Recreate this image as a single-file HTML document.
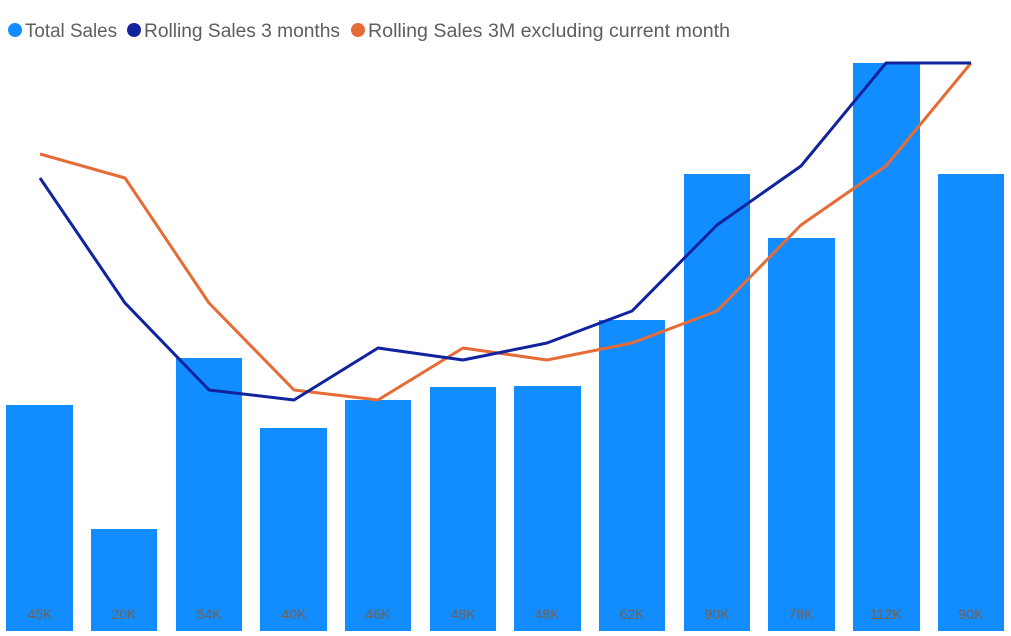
<!DOCTYPE html>
<html><head><style>
html,body{margin:0;padding:0;background:#fff;}
svg{display:block;}
</style></head><body>
<svg width="1011" height="636" viewBox="0 0 1011 636" xmlns="http://www.w3.org/2000/svg" font-family="'Liberation Sans', sans-serif">
<g font-size="19" fill="#605e5c">
<circle cx="15" cy="30" r="7" fill="#118DFF"/>
<text x="25" y="37" textLength="92" lengthAdjust="spacingAndGlyphs">Total Sales</text>
<circle cx="134" cy="30" r="7" fill="#12239E"/>
<text x="144" y="37" textLength="196" lengthAdjust="spacingAndGlyphs">Rolling Sales 3 months</text>
<circle cx="358" cy="30" r="7" fill="#E66C37"/>
<text x="368" y="37" textLength="362" lengthAdjust="spacingAndGlyphs">Rolling Sales 3M excluding current month</text>
</g>
<g fill="#118DFF">
<rect x="6" y="405" width="67" height="226"/>
<rect x="91" y="529" width="66" height="102"/>
<rect x="176" y="358" width="66" height="273"/>
<rect x="260" y="428" width="67" height="203"/>
<rect x="345" y="400" width="66" height="231"/>
<rect x="430" y="387" width="66" height="244"/>
<rect x="514" y="386" width="67" height="245"/>
<rect x="599" y="320" width="66" height="311"/>
<rect x="684" y="174" width="66" height="457"/>
<rect x="768" y="238" width="67" height="393"/>
<rect x="853" y="63" width="67" height="568"/>
<rect x="938" y="174" width="66" height="457"/>
</g>
<g font-size="14" fill="#7a5f4a" text-anchor="middle">
<text x="40" y="619">45K</text><text x="124" y="619">20K</text><text x="209" y="619">54K</text>
<text x="294" y="619">40K</text><text x="378" y="619">46K</text><text x="463" y="619">48K</text>
<text x="547" y="619">48K</text><text x="632" y="619">62K</text><text x="717" y="619">90K</text>
<text x="801" y="619">78K</text><text x="886" y="619">112K</text><text x="971" y="619">90K</text>
</g>
<polyline fill="none" stroke="#E66C37" stroke-width="3" stroke-linejoin="round" points="40,154 125,178 209,303 294,390 378,400 463,348 547,360 632,343 717,311 801,225 886,166 971,63"/>
<polyline fill="none" stroke="#12239E" stroke-width="3" stroke-linejoin="round" points="40,178 125,303 209,390 294,400 378,348 463,360 547,343 632,311 717,225 801,166 886,63 971,63"/>
</svg>
</body></html>
